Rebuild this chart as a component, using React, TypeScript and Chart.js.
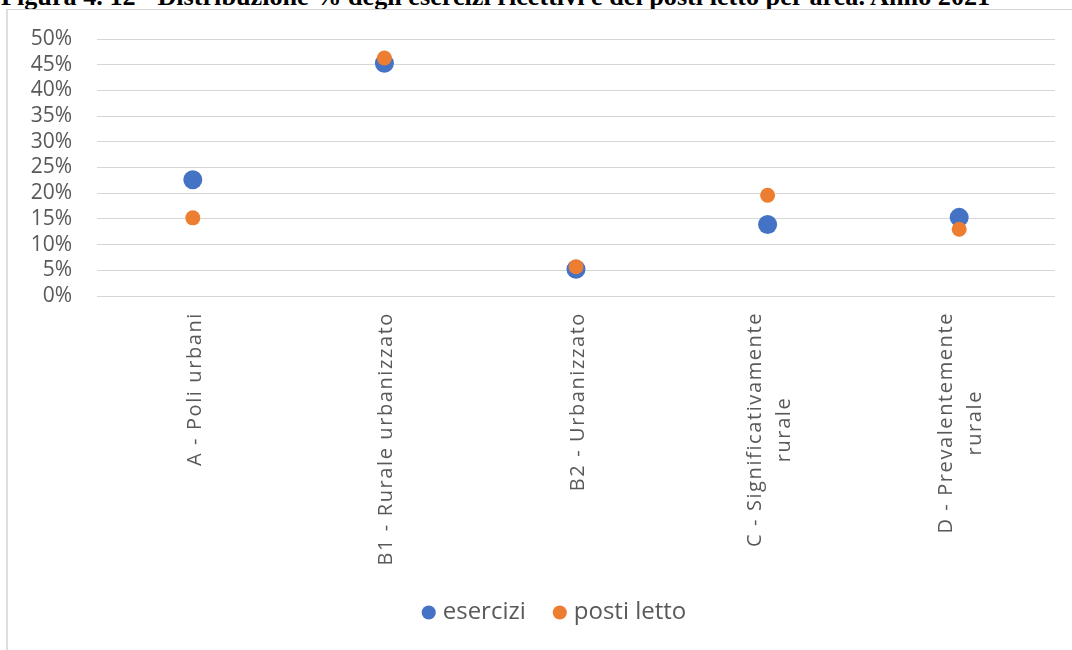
import React, { useEffect, useRef } from "react";
import { Chart, registerables } from "chart.js";

Chart.register(...registerables);

const titleText =
  "Figura 4. 12 - Distribuzione % degli esercizi ricettivi e dei posti letto per area. Anno 2021";

const categoryLines: string[][] = [
  ["A - Poli urbani"],
  ["B1 - Rurale urbanizzato"],
  ["B2 - Urbanizzato"],
  ["C - Significativamente", "rurale"],
  ["D - Prevalentemente", "rurale"],
];

const esercizi = [0.226, 0.453, 0.052, 0.139, 0.153];
const postiLetto = [0.152, 0.463, 0.057, 0.196, 0.13];

const seriesNames = ["esercizi", "posti letto"];
const yMin = 0;
const yMax = 0.5;
const yStep = 0.05;

const BLUE = "#4472C4";
const ORANGE = "#ED7D31";
const TEXT = "#595959";
const GRID = "#d6d6d6";

const xLabelPlugin = {
  id: "xLabelsRotated",
  afterLayout(chart: any) {
    // centre the legend under the whole chart frame
    if (chart.legend) {
      chart.legend.left += 19;
      chart.legend.right += 19;
    }
  },
  afterDraw(chart: any) {
    const { ctx } = chart;
    const x = chart.scales.x;
    ctx.save();
    ctx.font = '20px "Open Sans"';
    ctx.fillStyle = TEXT;
    (ctx as any).letterSpacing = "1.6px";
    ctx.textBaseline = "middle";
    ctx.textAlign = "center";
    const lineH = 29;
    categoryLines.forEach((lines, i) => {
      const px = x.getPixelForTick(i) + 2;
      const maxW = Math.max(...lines.map((l) => ctx.measureText(l).width));
      const n = lines.length;
      ctx.save();
      ctx.translate(px, x.top + 16);
      ctx.rotate(-Math.PI / 2);
      lines.forEach((l, j) => {
        const off = (j - (n - 1) / 2) * lineH;
        ctx.fillText(l, -maxW / 2, off);
      });
      ctx.restore();
    });
    ctx.restore();
  },
};

export default function App() {
  const ref = useRef<HTMLCanvasElement | null>(null);

  useEffect(() => {
    if (!ref.current) return;
    const chart = new Chart(ref.current, {
      type: "line",
      data: {
        labels: categoryLines.map((l) => l.join(" ")),
        datasets: [
          {
            label: seriesNames[0],
            data: esercizi,
            showLine: false,
            backgroundColor: BLUE,
            borderColor: BLUE,
            pointBackgroundColor: BLUE,
            pointBorderWidth: 0,
            pointRadius: 9.5,
            pointStyle: "circle",
            order: 1,
          },
          {
            label: seriesNames[1],
            data: postiLetto,
            showLine: false,
            backgroundColor: ORANGE,
            borderColor: ORANGE,
            pointBackgroundColor: ORANGE,
            pointBorderWidth: 0,
            pointRadius: 7.5,
            pointStyle: "circle",
            order: 0,
          },
        ],
      },
      options: {
        animation: false,
        responsive: false,
        maintainAspectRatio: false,
        layout: { padding: { top: 29, left: 12, right: 50, bottom: 15.5 } },
        plugins: {
          title: { display: false },
          tooltip: { enabled: false },
          legend: {
            display: true,
            position: "bottom",
            labels: {
              usePointStyle: true,
              boxWidth: 4,
              boxHeight: 10,
              padding: 32,
              color: TEXT,
              font: { family: "Open Sans", size: 24 },
              sort: (a: any, b: any) => a.datasetIndex - b.datasetIndex,
            },
          },
        },
        scales: {
          x: {
            type: "category",
            offset: true,
            grid: { display: false, drawTicks: false },
            border: { display: false },
            ticks: { display: false },
            afterFit(scale: any) {
              scale.height = 272.5;
            },
          },
          y: {
            min: yMin,
            max: yMax,
            grid: { color: GRID, lineWidth: 1, drawTicks: false },
            border: { display: false },
            ticks: {
              stepSize: yStep,
              autoSkip: false,
              padding: 25,
              color: TEXT,
              font: { family: "Open Sans", size: 21 },
              callback: (v: any) => Math.round(Number(v) * 100) + "%",
            },
            afterFit(scale: any) {
              scale.width = 77;
              scale.paddingTop = 13;
              scale.paddingBottom = 13;
            },
          },
        },
      },
      plugins: [xLabelPlugin],
    });
    return () => chart.destroy();
  }, []);

  return (
    <div
      style={{
        position: "fixed",
        left: 0,
        top: 0,
        width: 1072,
        height: 650,
        overflow: "hidden",
        background: "#fff",
      }}
    >
      <div
        style={{
          position: "absolute",
          left: 1,
          top: -16,
          fontFamily: '"Liberation Serif", serif',
          fontWeight: "bold",
          fontSize: 26.2,
          lineHeight: "26px",
          whiteSpace: "nowrap",
          color: "#000",
        }}
      >
        {titleText}
      </div>
      <div
        style={{
          position: "absolute",
          left: 6,
          top: 9,
          width: 1300,
          height: 900,
          background: "#fff",
          borderLeft: "2px solid #dedede",
          borderTop: "1px solid #d6d6d6",
        }}
      />
      <canvas
        ref={ref}
        width={1097}
        height={640}
        style={{ position: "absolute", left: 8, top: 10, width: 1097, height: 640 }}
      />
    </div>
  );
}
